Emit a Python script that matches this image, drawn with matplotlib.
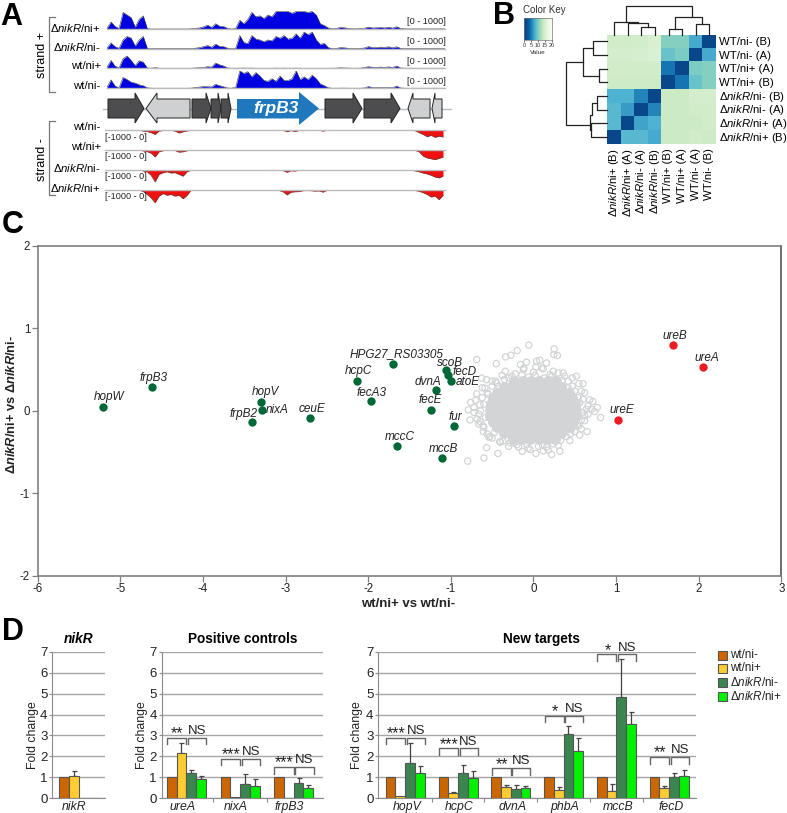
import numpy as np
import matplotlib
matplotlib.use('Agg')
import matplotlib.pyplot as plt
from matplotlib.patches import Polygon, Rectangle

plt.rcParams['font.family'] = 'Liberation Sans'
plt.rcParams['axes.unicode_minus'] = False
plt.rcParams['mathtext.fontset'] = 'custom'
plt.rcParams['mathtext.rm'] = 'Liberation Sans'
plt.rcParams['mathtext.it'] = 'Liberation Sans:italic'
plt.rcParams['mathtext.bf'] = 'Liberation Sans:bold'
plt.rcParams['mathtext.bfit'] = 'Liberation Sans:italic:bold'

W, H = 787, 813
DK = 'Δ$\\mathit{nikR}$'

# --- panel A: coverage tracks, reads per 4 px bin
plus_names = [DK + '/ni+', DK + '/ni-', 'wt/ni+', 'wt/ni-']
plus_tracks = [
    [50, 400, 150, 30, 950, 800, 650, 100, 550, 750, 20, 0, 0, 0, 0, 0, 0, 0, 0, 0, 0, 10, 40, 60, 120, 220, 90, 300, 160, 140, 30, 0,
     30, 500, 300, 550, 950, 700, 750, 600, 800, 700, 1000, 1000, 1000, 1000, 900, 1000, 1000, 1000, 950, 1000, 800, 300, 200, 60, 10, 30,
     90, 70, 30, 10, 10, 20, 40, 110, 60, 70, 90, 60, 100, 50, 130, 30, 10, 5, 5, 5, 5, 5, 5, 5, 5, 5, 5],
    [40, 330, 120, 20, 500, 700, 600, 150, 500, 700, 20, 5, 5, 5, 5, 5, 5, 5, 5, 5, 5, 10, 30, 60, 120, 180, 80, 260, 130, 120, 30, 5,
     30, 750, 350, 300, 750, 550, 500, 400, 500, 450, 700, 600, 750, 550, 600, 850, 600, 950, 800, 950, 500, 250, 300, 60, 5, 20,
     60, 50, 20, 10, 10, 20, 40, 120, 60, 70, 90, 70, 110, 50, 110, 20, 5, 5, 5, 5, 5, 5, 5, 5, 5, 5, 5],
    [60, 450, 120, 30, 550, 700, 450, 150, 430, 350, 20, 5, 40, 5, 5, 5, 5, 5, 5, 5, 5, 5, 20, 30, 50, 90, 70, 300, 200, 130, 20, 5,
     5, 10, 10, 10, 10, 5, 5, 5, 5, 5, 10, 5, 10, 5, 5, 10, 5, 5, 5, 5, 5, 5, 5, 5, 5, 10,
     30, 20, 10, 5, 5, 10, 50, 90, 60, 50, 70, 50, 80, 50, 130, 20, 5, 5, 5, 5, 5, 5, 5, 5, 5, 5, 5],
    [60, 480, 130, 30, 620, 500, 350, 300, 200, 150, 30, 5, 5, 5, 5, 5, 5, 5, 5, 5, 5, 10, 50, 70, 100, 90, 80, 230, 150, 90, 20, 5,
     60, 1000, 850, 950, 650, 900, 700, 450, 400, 550, 400, 700, 450, 450, 550, 1000, 500, 650, 500, 750, 550, 250, 150, 30, 5, 5,
     10, 10, 5, 5, 5, 5, 20, 100, 40, 40, 40, 30, 50, 40, 130, 20, 5, 5, 5, 5, 5, 5, 5, 5, 5, 5, 5],
]
plus_base_px = [29, 48.7, 68.3, 88.3]
plus_name_y = [28.3, 47.3, 66, 85.7]
plus_range_y = [21.7, 41.7, 61.7, 81.7]

minus_names = ['wt/ni-', 'wt/ni+', DK + '/ni-', DK + '/ni+']
minus_tracks = [
    [0, 10, 0, 5, 0, 0, 0, 0, 0, 60, 80, 150, 250, 60, 30, 10, 20, 60, 170, 100, 50, 5, 5, 5, 5, 5, 5, 5, 5, 5, 5, 5,
     5, 5, 5, 5, 5, 5, 5, 5, 5, 5, 5, 5, 10, 100, 30, 90, 20, 5, 5, 5, 10, 20, 60, 10, 5, 5,
     5, 5, 5, 5, 5, 5, 5, 5, 5, 5, 5, 5, 5, 5, 5, 5, 5, 5, 5, 40, 150, 250, 380, 300, 420, 350, 400],
    [0, 10, 0, 5, 0, 0, 0, 0, 0, 50, 90, 180, 400, 100, 40, 10, 10, 30, 120, 100, 40, 5, 5, 5, 5, 5, 5, 5, 5, 5, 5, 5,
     5, 5, 5, 5, 5, 5, 5, 5, 5, 5, 5, 5, 5, 10, 5, 5, 5, 5, 5, 5, 5, 5, 5, 5, 5, 5,
     5, 5, 5, 5, 5, 5, 5, 5, 5, 5, 5, 5, 5, 5, 5, 5, 5, 5, 5, 20, 100, 350, 450, 500, 550, 480, 400],
    [5, 20, 5, 10, 5, 5, 5, 5, 5, 50, 100, 300, 680, 250, 150, 100, 170, 150, 250, 350, 100, 5, 5, 5, 5, 5, 5, 5, 5, 5, 5, 5,
     5, 5, 5, 5, 5, 5, 5, 5, 5, 5, 5, 5, 30, 130, 40, 60, 10, 5, 5, 5, 5, 10, 30, 5, 5, 5,
     5, 5, 5, 5, 5, 5, 5, 5, 5, 5, 5, 5, 5, 5, 5, 5, 5, 5, 5, 50, 100, 170, 220, 300, 400, 450, 350],
    [5, 20, 5, 20, 5, 5, 5, 5, 10, 80, 250, 450, 730, 350, 200, 300, 250, 350, 300, 500, 300, 10, 5, 5, 5, 5, 5, 5, 5, 5, 5, 5,
     10, 5, 10, 5, 5, 5, 5, 10, 5, 5, 10, 30, 100, 280, 120, 100, 90, 40, 30, 40, 60, 50, 120, 10, 5, 5,
     5, 5, 5, 5, 5, 5, 5, 5, 5, 5, 5, 5, 5, 5, 5, 5, 5, 5, 5, 30, 70, 150, 250, 400, 350, 550, 300],
]
minus_top_px = [130, 150, 170, 190]
minus_name_y = [127.3, 147.3, 167.7, 188.3]
minus_range_y = [137.3, 156.7, 176.7, 196.7]

# start, head base, tip of each gene arrow, and its fill
gene_arrows = [
    (108, 135, 144, '#4d4d4f'), (190, 157, 146, '#cfd0d2'), (192, 206, 211, '#4d4d4f'), (211, 218, 221, '#4d4d4f'),
    (221, 228, 231, '#4d4d4f'), (325, 353, 362, '#4d4d4f'), (364, 391, 400, '#4d4d4f'),
    (430, 413, 408, '#cfd0d2'), (442, 435, 432, '#cfd0d2'),
]

# --- panel B: distance heatmap
b_rows = ['WT/ni- (B)', 'WT/ni- (A)', 'WT/ni+ (A)', 'WT/ni+ (B)',
          DK + '/ni- (B)', DK + '/ni- (A)', DK + '/ni+ (A)', DK + '/ni+ (B)']
b_matrix = [
    [15.5, 15.5, 15.7, 16.5, 10.5, 10.5, 7.0, 0.5],
    [16.0, 16.0, 16.2, 16.8, 9.0, 10.0, 0.5, 7.0],
    [15.5, 15.5, 15.5, 15.5, 3.5, 0.5, 10.0, 10.5],
    [15.3, 15.3, 15.3, 15.3, 0.5, 3.5, 9.0, 10.5],
    [7.5, 7.5, 4.5, 0.5, 15.0, 15.0, 16.0, 16.0],
    [8.0, 6.0, 0.5, 4.5, 15.0, 15.0, 15.5, 15.5],
    [8.0, 0.5, 6.5, 7.5, 15.0, 15.0, 15.0, 15.5],
    [0.5, 8.0, 8.0, 7.0, 15.0, 15.0, 15.5, 15.2],
]
# dendrograms, branches as pixel paths
top_dendro = [
    [(514, 104), (514, 82), (555, 82), (555, 104)], [(473, 104), (473, 68), (534, 68), (534, 82)],
    [(432, 104), (432, 66), (503, 66), (503, 68)], [(596, 104), (596, 87), (636, 87), (636, 104)],
    [(677, 104), (677, 72), (718, 72), (718, 104)], [(616, 87), (616, 50), (697, 50), (697, 72)],
    [(467, 66), (467, 18), (665, 18), (665, 50)],
]
left_dendro = [
    [(412, 124), (370, 124), (370, 165), (412, 165)], [(412, 206), (388, 206), (388, 247), (412, 247)],
    [(370, 145), (340, 145), (340, 227), (388, 227)], [(340, 186), (288, 186), (288, 376), (360, 376)],
    [(412, 288), (382, 288), (382, 330), (412, 330)], [(412, 370), (362, 370), (362, 411), (412, 411)],
    [(382, 309), (366, 309), (366, 345), (360, 345), (360, 391), (362, 391)],
]

# --- panel C: volcano-like scatter
green_names = ['hopW', 'frpB3', 'hopV', 'nixA', 'frpB2', 'ceuE', 'HPG27_RS03305', 'hcpC', 'fecA3', 'scoB', 'fecD',
               'atoE', 'dvnA', 'fecE', 'fur', 'mccC', 'mccB']
green_x = [-5.21, -4.62, -3.30, -3.28, -3.41, -2.70, -1.70, -2.14, -1.97, -1.06, -1.04, -1.00, -1.18, -1.24, -0.96, -1.65, -1.11]
green_y = [0.05, 0.29, 0.106, 0.016, -0.134, -0.09, 0.573, 0.362, 0.122, 0.49, 0.43, 0.366, 0.256, 0.016, -0.183, -0.423, -0.573]
green_label_px = [(109, 396.7), (153.7, 378), (265, 392.3), (277.7, 409.7), (243.3, 414), (312.3, 409.3), (396.7, 353.7),
                  (358.7, 371), (372, 392.7), (450.3, 362.7), (464.7, 372.3), (467.7, 382.3), (427.7, 381.7),
                  (430.7, 400), (455, 416.7), (399.3, 436.7), (443.7, 449)]
red_names = ['ureB', 'ureA', 'ureE']
red_x = [1.684, 2.05, 1.02]
red_y = [0.793, 0.528, -0.114]
red_label_px = [(674.7, 336), (707, 357.7), (622, 410.3)]

ring_x = [-0.056, 0.25, -0.197, -0.273, -0.337, 0.246, 0.29, -0.687, -0.45, 0.037, 0.077, 0.158, -0.157, -0.084, -0.116, 0.24,
          0.379, 0.52, 0.6, 0.58, 0.68, 0.72, 0.773, 0.814, 0.74, 0.64, 0.58, 0.649, 0.56, 0.5, 0.4, 0.32, 0.22, 0.18, 0.12,
          0.03, -0.136, -0.43, -0.567, -0.6, -0.796, -0.527, -0.607, -0.647, -0.768, -0.788, -0.76, -0.647, -0.687, -0.567,
          -0.627, -0.587, -0.447, -0.407, -0.285, -0.064,
          -0.38, -0.3, -0.22, -0.12, 0.0, 0.1, 0.2, 0.3, 0.42, 0.47, 0.55, 0.62, 0.66, 0.6, 0.56, 0.62, 0.55, 0.58, 0.44, 0.3,
          0.16, 0.06, -0.04, -0.18, -0.3, -0.4, -0.5, -0.56, -0.6, -0.58, -0.66, -0.72, -0.7, -0.62, -0.56, -0.62, -0.5, -0.42,
          -0.72, -0.66, 0.7, 0.66, 0.47, 0.36, -0.2, 0.03, 0.12, -0.34,
          -0.5, -0.46, -0.35, -0.26, -0.14, -0.06, 0.02, 0.13, 0.22, 0.35, 0.42, 0.5, 0.54, 0.6, 0.62, 0.53, 0.45, 0.33, 0.24,
          0.11, -0.08, -0.24, -0.37, -0.47, -0.54, -0.61, -0.68, -0.64, -0.6, -0.55]
ring_y = [0.797, 0.752, 0.732, 0.675, 0.655, 0.683, 0.671, 0.622, 0.573, 0.602, 0.614, 0.581, 0.561, 0.59, 0.52, 0.48,
          0.42, 0.42, 0.33, 0.24, 0.134, 0.114, 0.04, -0.081, -0.008, 0.02, -0.11, -0.252, -0.293, -0.252, -0.313, -0.488,
          -0.529, -0.476, -0.484, -0.517, -0.492, -0.517, -0.447, -0.573, -0.61, -0.313, -0.252, -0.13, -0.11, 0.012, 0.102,
          0.073, 0.207, 0.378, 0.398, 0.276, 0.337, -0.374, -0.386, -0.455,
          0.43, 0.4, 0.45, 0.5, 0.47, 0.52, 0.44, 0.46, 0.36, 0.3, 0.33, 0.22, 0.06, -0.02, 0.1, -0.12, -0.18, -0.22, -0.36,
          -0.42, -0.44, -0.43, -0.47, -0.44, -0.43, -0.38, -0.33, -0.28, -0.2, -0.08, -0.04, 0.04, 0.13, 0.16, 0.22, 0.28,
          0.36, 0.3, -0.02, -0.16, 0.02, -0.04, 0.4, 0.46, -0.41, 0.53, 0.51, 0.48,
          0.3, 0.36, 0.38, 0.42, 0.44, 0.41, 0.43, 0.4, 0.42, 0.37, 0.28, 0.24, 0.16, 0.14, -0.06, -0.16, -0.28, -0.36, -0.4,
          -0.42, -0.41, -0.39, -0.37, -0.26, -0.32, -0.18, -0.1, 0.0, 0.08, 0.2]
# densely packed centre of the cloud, one row of x values per y
core_y = [0.36, 0.29, 0.22, 0.15, 0.08, 0.01, -0.06, -0.13, -0.20, -0.27, -0.34]
core_rows = [
    [-0.24, -0.13, -0.03, 0.07, 0.18, 0.27],
    [-0.36, -0.27, -0.19, -0.1, -0.02, 0.07, 0.15, 0.24, 0.33],
    [-0.44, -0.36, -0.27, -0.18, -0.09, 0.0, 0.09, 0.18, 0.27, 0.36, 0.43],
    [-0.49, -0.41, -0.32, -0.23, -0.14, -0.05, 0.04, 0.13, 0.22, 0.31, 0.39, 0.47],
    [-0.51, -0.43, -0.34, -0.25, -0.16, -0.07, 0.02, 0.11, 0.2, 0.29, 0.38, 0.47, 0.5],
    [-0.53, -0.45, -0.36, -0.27, -0.18, -0.09, 0.0, 0.09, 0.18, 0.27, 0.36, 0.45, 0.52],
    [-0.52, -0.43, -0.34, -0.25, -0.16, -0.07, 0.02, 0.11, 0.2, 0.29, 0.38, 0.47, 0.52],
    [-0.49, -0.41, -0.32, -0.23, -0.14, -0.05, 0.04, 0.13, 0.22, 0.31, 0.39, 0.48],
    [-0.44, -0.36, -0.27, -0.18, -0.09, 0.0, 0.09, 0.18, 0.27, 0.36, 0.44],
    [-0.36, -0.27, -0.19, -0.1, -0.02, 0.07, 0.15, 0.24, 0.33],
    [-0.25, -0.14, -0.04, 0.07, 0.17, 0.26],
]

# --- panel D: qPCR fold change, heights then error tops per series
d_series = ['wt/ni-', 'wt/ni+', DK + '/ni-', DK + '/ni+']
d_colors = ['#cc6600', '#ffcc33', '#3a8550', '#00f000']

nikr_genes = ['nikR']
nikr_vals = [[1.0, 1.05, 0.02, 0.02]]
nikr_tops = [[1.0, 1.32, 0.02, 0.02]]

pos_genes = ['ureA', 'nixA', 'frpB3']
pos_vals = [[1.0, 2.18, 1.22, 0.92], [1.0, 0.05, 0.7, 0.57], [1.0, 0.02, 0.72, 0.5]]
pos_tops = [[1.0, 2.65, 1.37, 1.05], [1.0, 0.05, 1.15, 0.92], [1.0, 0.02, 0.97, 0.63]]
pos_stars = ['**', '***', '***']
pos_brackets = [2.9, 1.9, 1.48]

new_genes = ['hopV', 'hcpC', 'dvnA', 'phbA', 'mccB', 'fecD']
new_vals = [[1.0, 0.1, 1.67, 1.2], [1.0, 0.27, 1.2, 0.97], [1.0, 0.55, 0.45, 0.48],
            [1.0, 0.4, 3.07, 2.25], [1.0, 0.37, 4.85, 3.55], [1.0, 0.5, 1.03, 1.08]]
new_tops = [[1.0, 0.1, 2.65, 1.55], [1.0, 0.3, 1.58, 1.3], [1.0, 0.65, 0.63, 0.6],
            [1.0, 0.55, 3.47, 2.87], [1.0, 0.7, 6.65, 4.1], [1.0, 0.6, 1.2, 1.35]]
new_stars = ['***', '***', '**', '*', '*', '**']
new_brackets = [2.9, 2.38, 1.43, 3.94, 6.87, 1.96]


def ax_px(l, t, r, b, **kw):
    return fig.add_axes([l / W, 1 - b / H, (r - l) / W, (b - t) / H], **kw)


fig = plt.figure(figsize=(W / 100, H / 100), dpi=100)

# overlay in pixel coordinates for annotations
ov = ax_px(0, 0, W, H, zorder=5)
ov.set_xlim(0, W)
ov.set_ylim(H, 0)
ov.axis('off')
ov.patch.set_alpha(0)

for letter, x, y in [('A', 0, 17), ('B', 493, 16), ('C', 2, 225), ('D', 2, 632)]:
    ov.text(x, y, letter, fontsize=22, fontweight='bold', va='center', ha='left', color='black')

# panel A
for name, vals, base, ny, ry in zip(plus_names, plus_tracks, plus_base_px, plus_name_y, plus_range_y):
    ax = ax_px(107, base - 17.5, 445, base)
    ax.set_xlim(0, 84)
    ax.set_ylim(0, 1000)
    ax.axis('off')
    xs = np.arange(len(vals))
    ax.fill_between(xs, 0, vals, color='#0000e0', lw=0)
    ax.plot(xs, vals, color='#333344', lw=0.4)
    ax.plot([0, 84], [0, 0], color='#bbbbbb', lw=1, clip_on=False)
    ov.text(100.7, ny, name, ha='right', va='center', fontsize=8.2)
    ov.text(446, ry, '[0 - 1000]', ha='right', va='center', fontsize=6.6, color='#222222')

for name, vals, top, ny, ry in zip(minus_names, minus_tracks, minus_top_px, minus_name_y, minus_range_y):
    ax = ax_px(105, top, 445, top + 17.5)
    ax.set_xlim(0, 85)
    ax.set_ylim(-1000, 0)
    ax.axis('off')
    xs = np.arange(len(vals)) + 0.5
    ys = -np.array(vals)
    ax.fill_between(xs, ys, 0, color='#f01010', lw=0)
    ax.plot(xs, ys, color='#444444', lw=0.4)
    ax.plot([0, 85], [0, 0], color='#bbbbbb', lw=1, clip_on=False)
    ov.text(100.7, ny, name, ha='right', va='center', fontsize=8.2)
    ov.text(105, ry, '[-1000 - 0]', ha='left', va='center', fontsize=6.6, color='#222222')

for ytop, ybot in [(17.3, 92), (121, 195)]:
    ov.plot([55, 49, 49, 55], [ytop, ytop, ybot, ybot], color='#777777', lw=0.9)
ov.text(42, 55, 'strand +', rotation=90, ha='center', va='center', fontsize=9)
ov.text(42, 160, 'strand -', rotation=90, ha='center', va='center', fontsize=9)

ov.plot([103, 451], [108.7, 108.7], color='#bbbbbb', lw=1, zorder=1)
for start, neck, tip, col in gene_arrows:
    ov.add_patch(Polygon([(start, 99), (neck, 99), (neck, 93), (tip, 108.5), (neck, 123), (neck, 118), (start, 118)],
                         closed=True, fc=col, ec='#222222', lw=0.7, zorder=2))
ov.add_patch(Polygon([(237, 99), (299, 99), (299, 92), (319, 108.5), (299, 125), (299, 118.5), (237, 118.5)],
                     closed=True, fc='#1f78bd', ec='none', zorder=2))
ov.text(276, 108.7, 'frpB3', color='white', fontsize=12.5, fontweight='bold', fontstyle='italic', ha='center', va='center', zorder=3)

# panel B
ax = ax_px(607.3, 34.7, 716, 144)
ax.imshow(b_matrix, cmap='GnBu_r', vmin=0, vmax=20, aspect='auto')
ax.axis('off')
for path in top_dendro + left_dendro:
    ov.plot([470 + p[0] / 3 for p in path], [p[1] / 3 for p in path], color='#222222', lw=0.9)
cell = (144 - 34.7) / 8
for i, name in enumerate(b_rows):
    ov.text(719, 34.7 + cell * (i + 0.5) + 0.5, name, ha='left', va='center', fontsize=8.2)
    ov.text(607.3 + (716 - 607.3) / 8 * (7.5 - i), 148, name, rotation=90, ha='center', va='top', fontsize=8.2)

cax = ax_px(524.3, 18.3, 551.7, 40)
cax.imshow(np.array([[0, 5, 10, 15, 20]]), cmap='GnBu_r', vmin=0, vmax=20, aspect='auto', interpolation='bicubic',
           extent=[0, 20, 0, 1])
cax.set_yticks([])
cax.set_xticks([0, 5, 10, 15, 20])
cax.tick_params(length=1.5, width=0.5, labelsize=4, pad=0.8, colors='#333333')
for s in cax.spines.values():
    s.set_linewidth(0.5)
    s.set_color('#777777')
ov.text(544, 10, 'Color Key', fontsize=7, ha='center', va='center', color='#333333')
ov.text(537.7, 52, 'Value', fontsize=4.6, ha='center', va='center', color='#333333')

# panel C
ax = ax_px(37.7, 246, 781.3, 575.7)
ax.set_xlim(-6, 3)
ax.set_ylim(-2, 2)
for s in ax.spines.values():
    s.set_color('#7f7f7f')
    s.set_linewidth(1.2)
ax.spines['right'].set_color('#555555')
ax.set_xticks(range(-6, 4))
ax.set_yticks([-2, -1, 0, 1, 2])
ax.tick_params(length=4, width=0.9, color='#7f7f7f', labelsize=8.3, pad=1.5, labelcolor='#222222')
ax.scatter(ring_x, ring_y, s=20, facecolors='none', edgecolors='#d3d4d6', linewidths=0.9, zorder=1)
for y, row in zip(core_y, core_rows):
    ax.scatter(row, [y] * len(row), s=62, color='#d3d4d6', lw=0, zorder=2)
ax.scatter(green_x, green_y, s=36, color='#006837', lw=0, zorder=3)
ax.scatter(red_x, red_y, s=36, color='#ee1c25', lw=0, zorder=3)
for name, (lx, ly) in zip(green_names + red_names, green_label_px + red_label_px):
    ov.text(lx, ly, name, fontstyle='italic', fontsize=8.5, ha='center', va='center', color='#222222')
ov.text(408, 604, 'wt/ni+ vs wt/ni-', fontweight='bold', fontsize=9.5, ha='center', va='center', color='#222222')
ov.text(12, 404, 'Δ$\\mathbfit{nikR}$/ni+ vs Δ$\\mathbfit{nikR}$/ni-', fontweight='bold', fontsize=9.3,
        rotation=90, ha='center', va='center', color='#222222')


# panel D
def draw_panel(l, r, center, step, genes, vals, tops, title, title_x, ylabel_x, label_shift, edges, stars=None, brackets=None):
    ax = ax_px(l, 651.7, r, 798.3)
    ax.set_xlim((l - center) / step, (r - center) / step)
    ax.set_ylim(0, 7)
    ax.set_axisbelow(True)
    ax.yaxis.grid(True, color='#a6a6a6', lw=1)
    for s in ['top', 'right']:
        ax.spines[s].set_visible(False)
    for s in ['left', 'bottom']:
        ax.spines[s].set_color('#8c8c8c')
    ax.set_yticks(range(8))
    ax.set_xticks(edges)
    ax.set_xticklabels([])
    ax.tick_params(axis='x', length=3, color='#8c8c8c')
    ax.tick_params(axis='y', length=2, color='#8c8c8c', labelsize=9.5, pad=1.5, labelcolor='#222222')
    w = 9.75 / step
    for g, gene in enumerate(genes):
        for k in range(4):
            x = g + (k - 1.5) * w
            ax.bar(x, vals[g][k], width=w, color=d_colors[k], edgecolor='#555555', lw=0.8, zorder=3)
            if tops[g][k] > vals[g][k]:
                ax.errorbar(x, vals[g][k], yerr=[[0], [tops[g][k] - vals[g][k]]], color='#444444', lw=0.9,
                            capsize=1.8, capthick=0.9, zorder=2)
        ax.text(g + label_shift, -0.42, gene, fontstyle='italic', fontsize=8.8, ha='center', va='center', color='#222222')
        if brackets is not None:
            top = brackets[g]
            drop = 0.3
            ax.plot([g - 0.36, g - 0.36, g, g], [top - drop, top, top, top - drop], color='#666666', lw=1, clip_on=False, zorder=4)
            ax.plot([g + 0.03, g + 0.03, g + 0.37, g + 0.37], [top - drop, top, top, top - drop], color='#666666', lw=1, clip_on=False, zorder=4)
            ax.text(g - 0.17, top + 0.2, stars[g], fontsize=11.5, ha='center', va='center', color='#222222', zorder=4, clip_on=False)
            ax.text(g + 0.2, top + 0.33, 'NS', fontsize=9.5, ha='center', va='center', color='#222222', zorder=4, clip_on=False)
    ov.text(title_x, 639, title, fontsize=9.8, fontweight='bold', ha='center', va='center',
            fontstyle='italic' if title == 'nikR' else 'normal')
    ov.text(ylabel_x, 735, 'Fold change', rotation=90, fontsize=8.8, ha='center', va='center', color='#222222')


draw_panel(52.3, 105, 78.8, 53, nikr_genes, nikr_vals, nikr_tops, 'nikR', 78.7, 33, -0.09, [])
draw_panel(161.7, 322.7, 186.3, 53.7, pos_genes, pos_vals, pos_tops, 'Positive controls', 242.7, 141.7, -0.08,
           [0.49, 1.51], pos_stars, pos_brackets)
draw_panel(378.3, 696, 405.2, 52.8, new_genes, new_vals, new_tops, 'New targets', 541, 357.3, 0.03,
           [0.5, 1.5, 2.5, 3.5, 4.5], new_stars, new_brackets)

for name, col, y in zip(d_series, d_colors, [655, 668.3, 682.3, 696.3]):
    ov.add_patch(Rectangle((717.7, y - 4.5), 9, 9, fc=col, ec='#555555', lw=0.8))
    ov.text(730, y, name, fontsize=8.4, ha='left', va='center', color='#222222')

fig.savefig('out.png', dpi=100)
